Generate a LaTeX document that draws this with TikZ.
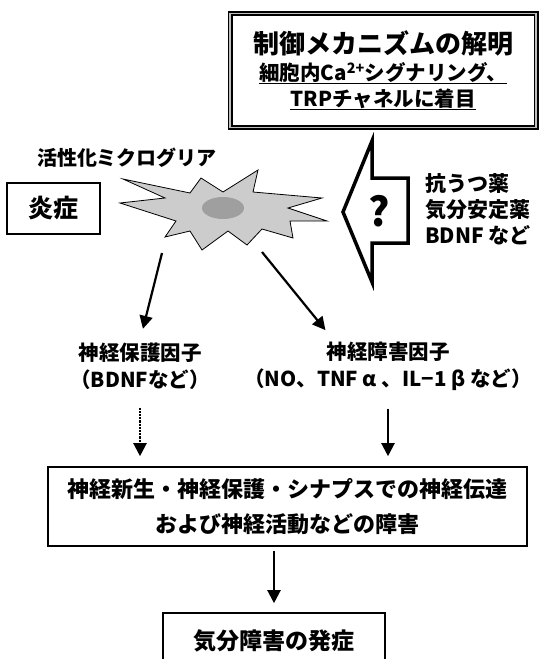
\documentclass[tikz,border=0pt]{standalone}
\usepackage{fontspec}
\setmainfont{Noto Sans CJK JP}
\usetikzlibrary{arrows.meta}

\newcommand{\thickul}[1]{\setbox0\hbox{#1}\rlap{\rule[-3.5pt]{\wd0}{1.5pt}}\box0}

\begin{document}
\begin{tikzpicture}[x=1pt, y=-1pt,
    box/.style={draw, line width=1.6pt, inner sep=0pt},
    txt/.style={align=center, inner sep=2pt, font=\bfseries\fontsize{20.5}{27}\selectfont},
    arr/.style={line width=2.2pt, -{Triangle[length=13pt, width=13pt]}}]
    \useasboundingbox (0,0) rectangle (541,659);

    \node[box, txt, minimum width=306pt, minimum height=114pt, line width=1.8pt, double=gray!50, double distance=1.4pt, font=\bfseries\fontsize{20.5}{26}\selectfont] (mech) at (383,70.5)
        {{\fontsize{26}{30}\selectfont 制御メカニズムの解明}\\[1pt]
         \thickul{細胞内Ca\textsuperscript{2+}シグナリング、}\\
         \thickul{TRPチャネルに着目}};

    \node[txt, font=\bfseries\fontsize{20}{24}\selectfont] (glialabel) at (127,158) {活性化ミクログリア};
    \node[box, txt, minimum width=93pt, minimum height=51pt, font=\bfseries\fontsize{25}{28}\selectfont] (inflam) at (53.5,208.5) {炎症};

    \draw[fill=gray!40, line width=0.8pt, line join=miter]
        (123,179) -- (190,193) -- (201,178) -- (223,192) -- (258,170) -- (253,192)
        -- (322,198) -- (288,208) -- (327,221) -- (290,221) -- (293,238) -- (262,229)
        -- (247,245) -- (228,231) -- (202,250) -- (190,231) -- (165,237) -- (176,221)
        -- (120,203) -- (165,198) -- cycle;
    \fill[gray!75] (223,208) ellipse [x radius=21, y radius=11];
    \coordinate (gliaL) at (162,253);
    \coordinate (gliaR) at (262,252);

    \draw[line width=3.5pt, line join=miter, miter limit=6]
        (343,212) -- (372,141) -- (372,178) -- (408,178) -- (408,243) -- (372,243) -- (372,282) -- cycle;
    \node[font=\bfseries\fontsize{40}{40}\selectfont] (q) at (379,211) {?};
    \node[txt, align=left, anchor=west, font=\bfseries\fontsize{21}{26}\selectfont] (drugs) at (423,209) {抗うつ薬\\気分安定薬\\BDNF など};

    \node[txt] (protect) at (140,366) {神経保護因子\\（BDNFなど）};
    \node[txt] (damage) at (388,366) {神経障害因子\\（NO、TNF α 、IL−1 β など）};

    \node[box, txt, minimum width=479pt, minimum height=79pt, font=\bfseries\fontsize{22}{35}\selectfont] (impair) at (287.5,506.5)
        {神経新生・神経保護・シナプスでの神経伝達\\および神経活動などの障害};
    \node[box, txt, minimum width=222pt, minimum height=56pt, font=\bfseries\fontsize{23}{26}\selectfont] (onset) at (274,641) {気分障害の発症};

    \draw[arr, shorten >=12pt] (gliaL) -- (protect.north);
    \draw[arr, shorten >=12pt] (gliaR) -- ([xshift=-55pt]damage.north);
    \draw[arr, densely dotted, shorten <=16pt, shorten >=10pt] (protect.south) -- (protect.south |- impair.north);
    \draw[arr, shorten <=16pt, shorten >=10pt] (damage.south) -- (damage.south |- impair.north);
    \draw[arr, shorten <=4pt, shorten >=9pt] (onset.north |- impair.south) -- (onset.north);
\end{tikzpicture}
\end{document}
